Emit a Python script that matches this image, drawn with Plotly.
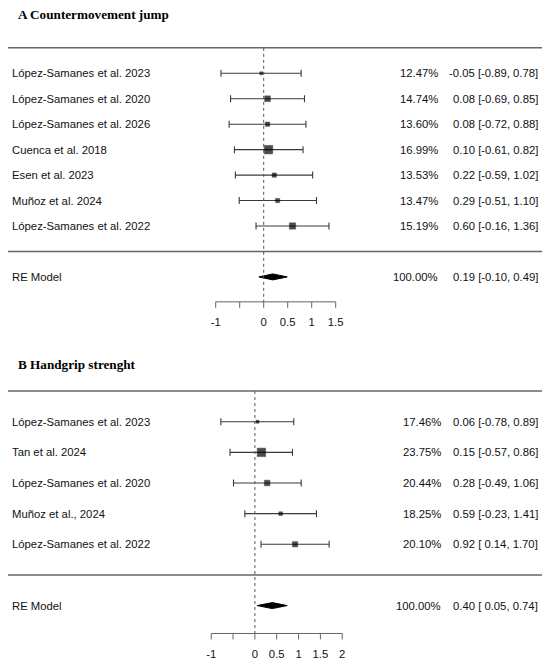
import plotly.graph_objects as go

# A  Countermovement jump (rows top to bottom)
cmj_study = ["López-Samanes et al. 2023", "López-Samanes et al. 2020", "López-Samanes et al. 2026",
             "Cuenca et al. 2018", "Esen et al. 2023", "Muñoz et al. 2024", "López-Samanes et al. 2022"]
cmj_est = [-0.05, 0.08, 0.08, 0.10, 0.22, 0.29, 0.60]
cmj_lo = [-0.89, -0.69, -0.72, -0.61, -0.59, -0.51, -0.16]
cmj_hi = [0.78, 0.85, 0.88, 0.82, 1.02, 1.10, 1.36]
cmj_w = [12.47, 14.74, 13.60, 16.99, 13.53, 13.47, 15.19]
cmj_re = [0.19, -0.10, 0.49]
cmj_ticks = [-1, -0.5, 0, 0.5, 1, 1.5]
cmj_ticklab = ["-1", "", "0", "0.5", "1", "1.5"]

# B  Handgrip strenght
hg_study = ["López-Samanes et al. 2023", "Tan et al. 2024", "López-Samanes et al. 2020",
            "Muñoz et al., 2024", "López-Samanes et al. 2022"]
hg_est = [0.06, 0.15, 0.28, 0.59, 0.92]
hg_lo = [-0.78, -0.57, -0.49, -0.23, 0.14]
hg_hi = [0.89, 0.86, 1.06, 1.41, 1.70]
hg_w = [17.46, 23.75, 20.44, 18.25, 20.10]
hg_re = [0.40, 0.05, 0.74]
hg_ticks = [-1, -0.5, 0, 0.5, 1, 1.5, 2]
hg_ticklab = ["-1", "", "0", "0.5", "1", "1.5", "2"]

W, H = 550, 667
OFF = 8          # page body margin of the browser
FONT = "Liberation Sans"
GREY = "#666666"
TXT = "#111111"


def px(v):
    return (v - OFF) / W


def py(v):
    return 1 - (v - OFF) / H


fig = go.Figure()


def panel(n, title, title_px, study, est, lo, hi, w, re, ticks, ticklab,
          x0_px, unit_px, y1_px, row_px, axis_y, lab_y, pct_px):
    xa, ya = ("x", "y") if n == 1 else ("x%d" % n, "y%d" % n)
    k = len(study)
    rows = list(range(k, 0, -1))

    # CI whiskers
    xs, ys = [], []
    for r, a, b in zip(rows, lo, hi):
        xs += [a, b, None]
        ys += [r, r, None]
    fig.add_trace(go.Scatter(x=xs, y=ys, mode="lines", line=dict(color="#3a3a3a", width=1.1),
                             xaxis=xa, yaxis=ya, hoverinfo="skip"))
    fig.add_trace(go.Scatter(x=lo + hi, y=rows + rows, mode="markers",
                             marker=dict(symbol="line-ns", size=5, line=dict(color="#3a3a3a", width=1.1)),
                             xaxis=xa, yaxis=ya, hoverinfo="skip"))
    # weight squares
    wmin, wmax = min(w), max(w)
    sizes = [3 + (v - wmin) / (wmax - wmin) * 5.5 for v in w]
    fig.add_trace(go.Scatter(x=est, y=rows, mode="markers",
                             marker=dict(symbol="square", size=sizes, color="black",
                                         line=dict(color="black", width=0.5)),
                             xaxis=xa, yaxis=ya))
    # summary diamond
    h = 3 / row_px
    fig.add_trace(go.Scatter(x=[re[1], re[0], re[2], re[0], re[1]], y=[-1, -1 + h, -1, -1 - h, -1],
                             mode="lines", fill="toself", fillcolor="black",
                             line=dict(color="black", width=1), xaxis=xa, yaxis=ya))
    # reference line at 0
    fig.add_trace(go.Scatter(x=[0, 0], y=[k + 1, axis_y], mode="lines",
                             line=dict(color="#555", width=1, dash="dot"), xaxis=xa, yaxis=ya))
    # bottom axis
    ax_x, ax_y = [ticks[0], ticks[-1], None], [axis_y, axis_y, None]
    tl = 6 / row_px
    for t in ticks:
        ax_x += [t, t, None]
        ax_y += [axis_y, axis_y - tl, None]
    fig.add_trace(go.Scatter(x=ax_x, y=ax_y, mode="lines", line=dict(color=GREY, width=1),
                             xaxis=xa, yaxis=ya))
    fig.add_trace(go.Scatter(x=ticks, y=[lab_y] * len(ticks), mode="text", text=ticklab,
                             textfont=dict(family=FONT, size=11.3, color=TXT),
                             xaxis=xa, yaxis=ya))
    # separator lines
    for yy in [k + 1, 0]:
        fig.add_shape(type="line", xref="paper", yref=ya, x0=px(5), x1=px(545), y0=yy, y1=yy,
                      line=dict(color=GREY, width=1.5))
    # text columns
    labels = study + ["RE Model"]
    pcts = ["%.2f%%" % v for v in w] + ["100.00%"]
    cis = ["%.2f [%5.2f, %.2f]" % t for t in zip(est, lo, hi)] + ["%.2f [%5.2f, %.2f]" % tuple(re)]
    for r, lab, p, c in zip(rows + [-1], labels, pcts, cis):
        common = dict(yref=ya, y=r, yanchor="middle", showarrow=False,
                      font=dict(family=FONT, size=11.3, color=TXT))
        fig.add_annotation(xref="paper", x=px(12.3 - 2), xanchor="left", text=lab, **common)
        fig.add_annotation(xref="paper", x=px(pct_px + 2), xanchor="right", text=p, **common)
        fig.add_annotation(xref="paper", x=px(537.5 + 2), xanchor="right",
                           text=c.replace(" ", "&nbsp;"), **common)
    fig.add_annotation(xref="paper", yref="paper", x=px(18.3 - 2), y=py(title_px), xanchor="left",
                       yanchor="middle", showarrow=False, text="<b>%s</b>" % title,
                       font=dict(family="Liberation Serif", size=13.2, color="black"))

    # axis ranges from pixel geometry
    x0, y1 = x0_px - OFF, y1_px - OFF
    xr = [-x0 / unit_px, (W - x0) / unit_px]
    yr = [(y1 + row_px - H) / row_px, (y1 + row_px) / row_px]
    return xr, yr


xr1, yr1 = panel(1, "A Countermovement jump", 14, cmj_study, cmj_est, cmj_lo, cmj_hi, cmj_w, cmj_re,
                 cmj_ticks, cmj_ticklab, 263.7, 48.0, 226.0, 25.45, -1.98, -2.80, 437.7)
xr2, yr2 = panel(2, "B Handgrip strenght", 365, hg_study, hg_est, hg_lo, hg_hi, hg_w, hg_re,
                 hg_ticks, hg_ticklab, 254.9, 43.67, 544.3, 30.65, -1.91, -2.62, 441)

hidden = dict(visible=False, domain=[0, 1])
fig.update_layout(
    width=W, height=H, margin=dict(l=0, r=0, t=0, b=0),
    plot_bgcolor="rgba(0,0,0,0)", paper_bgcolor="white", showlegend=False,
    xaxis=dict(hidden, range=xr1, anchor="y"),
    yaxis=dict(hidden, range=yr1, anchor="x"),
    xaxis2=dict(hidden, range=xr2, anchor="y2"),
    yaxis2=dict(hidden, range=yr2, anchor="x2"),
)

fig.write_html("out.html")
